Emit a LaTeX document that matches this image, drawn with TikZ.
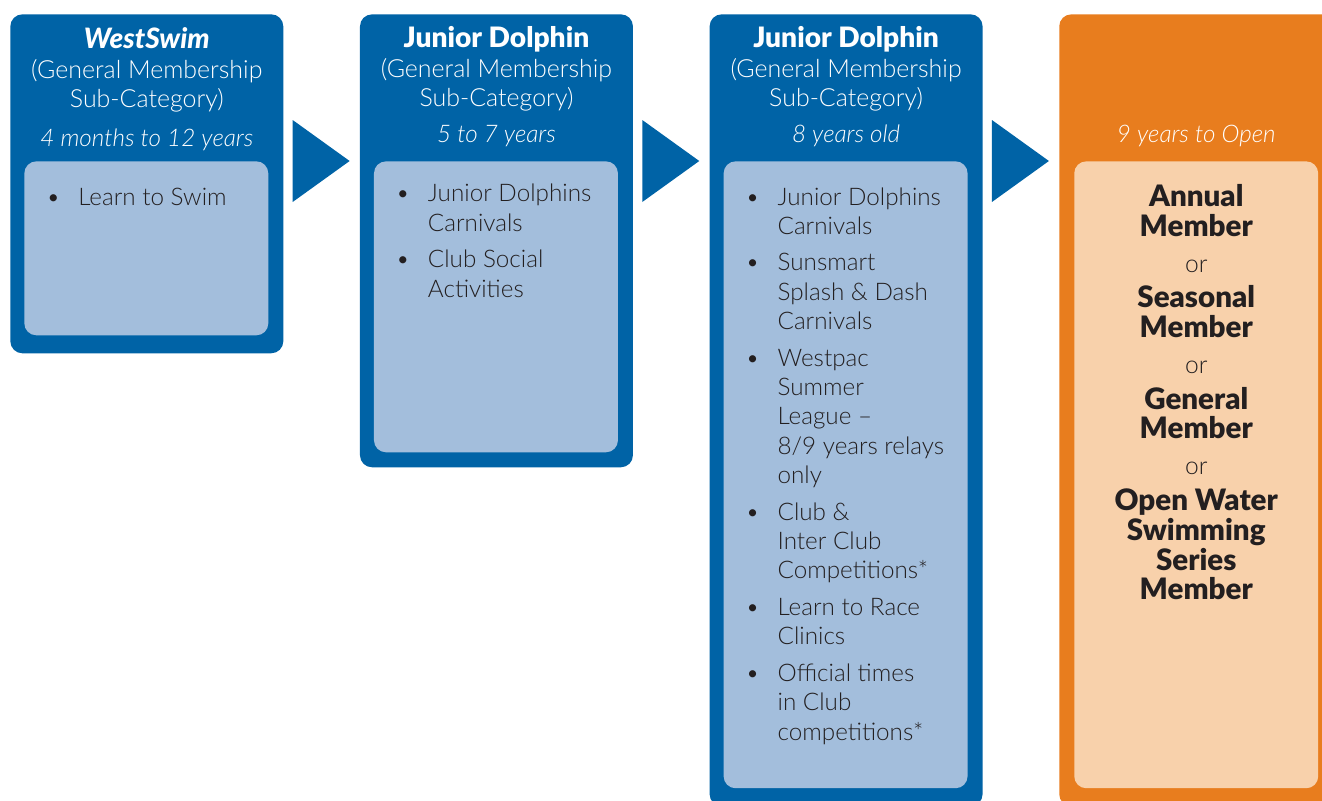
\documentclass[tikz,border=0pt]{standalone}
\usepackage{fontspec}
\setmainfont{Lato}[UprightFont=* Light, ItalicFont=* Light Italic, BoldFont=* Black, BoldItalicFont=* Black Italic]
\usetikzlibrary{positioning,calc}

\definecolor{swimblue}{RGB}{0,99,166}
\definecolor{listblue}{RGB}{163,190,220}
\definecolor{swimorange}{RGB}{232,125,30}
\definecolor{listorange}{RGB}{248,209,171}
\definecolor{textdark}{RGB}{35,31,32}

\newcommand{\bul}{\makebox[0.46cm][l]{\hspace*{-0.18cm}\textbullet}}
\newcommand{\hang}{\hspace*{0.46cm}}
\newcommand{\mem}[1]{\textbf{\fontsize{16.8}{17}\selectfont #1}}

\begin{document}
\begin{tikzpicture}[
  x=0.02cm, y=-0.02cm,
  stage box/.style={
    fill=swimblue,
    rounded corners=0.24cm,
    minimum width=5.46cm,
    inner sep=0,
    anchor=north west,
  },
  list box/.style={
    fill=listblue,
    rounded corners=0.24cm,
    minimum width=4.88cm,
    inner sep=0,
    anchor=north west,
  },
  head title/.style={text=white, inner sep=0, anchor=base,
    font=\fontsize{16}{19}\selectfont\bfseries},
  head sub/.style={text=white, inner sep=0, anchor=base, align=center,
    font=\fontsize{14.2}{17}\selectfont},
  head age/.style={text=white, inner sep=0, anchor=base,
    font=\fontsize{13.8}{16}\selectfont\itshape},
  list text/.style={text=textdark, inner sep=0, anchor=base west, align=left,
    font=\fontsize{13.8}{16.73}\selectfont},
  flow/.style={fill=swimblue},
  ]
  \useasboundingbox (0,0) rectangle (1322,801);
  % outer stages
  \node[stage box, minimum height=6.78cm] (westswim) at (10,14) {};
  \node[stage box, minimum height=9.06cm, right=1.52cm of westswim.north east,
    anchor=north west] (dolphin-young) {};
  \node[stage box, minimum height=15.84cm, right=1.52cm of dolphin-young.north east,
    anchor=north west] (dolphin-eight) {};
  \node[stage box, fill=swimorange, minimum width=5.6cm, minimum height=15.84cm,
    right=1.52cm of dolphin-eight.north east, anchor=north west] (open) {};
  % inner lists
  \node[list box, minimum height=3.48cm] (westswim-list)
    at ([shift={(14,147)}]westswim.north west) {};
  \node[list box, minimum height=5.82cm] (dolphin-young-list)
    at ([shift={(14,147)}]dolphin-young.north west) {};
  \node[list box, minimum height=12.54cm] (dolphin-eight-list)
    at ([shift={(14,147)}]dolphin-eight.north west) {};
  \node[list box, fill=listorange, minimum height=12.54cm] (open-list)
    at ([shift={(15,147)}]open.north west) {};
  % headings
  \node[head title] (westswim-title) at ([yshift=-0.7cm]westswim.north)
    {\itshape WestSwim};
  \node[head sub] (westswim-sub) at ([yshift=-1.88cm]westswim.north)
    {(General Membership\\Sub-Category)};
  \node[head age] (westswim-age) at ([yshift=-2.66cm]westswim.north)
    {4 months to 12 years};
  \foreach \st/\age in {dolphin-young/5 to 7 years, dolphin-eight/8 years old}{
    \node[head title] (\st-title) at ([yshift=-0.68cm]\st.north) {Junior Dolphin};
    \node[head sub] (\st-sub) at ([yshift=-1.86cm]\st.north)
      {(General Membership\\Sub-Category)};
    \node[head age] (\st-age) at ([yshift=-2.58cm]\st.north) {\age};
  }
  \node[head age] (open-age) at ([yshift=-2.58cm]open-list.north |- open.north)
    {9 years to Open};
  % list contents
  \node[list text] (westswim-items) at ([shift={(31,44)}]westswim-list.north west)
    {\bul Learn to Swim};
  \node[list text] (dolphin-young-items)
    at ([shift={(31,136)}]dolphin-young-list.north west)
    {\bul Junior Dolphins\\\hang Carnivals\\[4pt]
     \bul Club Social\\\hang Activities};
  \node[list text] (dolphin-eight-items)
    at ([shift={(31,579)}]dolphin-eight-list.north west)
    {\bul Junior Dolphins\\\hang Carnivals\\[4pt]
     \bul Sunsmart\\\hang Splash \& Dash\\\hang Carnivals\\[4pt]
     \bul Westpac\\\hang Summer\\\hang League --\\\hang 8/9 years relays\\\hang only\\[4pt]
     \bul Club \&\\\hang Inter Club\\\hang Competitions*\\[4pt]
     \bul Learn to Race\\\hang Clinics\\[4pt]
     \bul Official times\\\hang in Club\\\hang competitions*};
  \node[list text, anchor=base, align=center, font=\fontsize{14}{17}\selectfont]
    (open-items) at ([yshift=-8.78cm]open-list.north)
    {\mem{Annual}\\\mem{Member}\\[3.3pt]
     or\\[3.3pt]
     \mem{Seasonal}\\\mem{Member}\\[3.3pt]
     or\\[3.3pt]
     \mem{General}\\\mem{Member}\\[3.3pt]
     or\\[3.3pt]
     \mem{Open Water}\\\mem{Swimming}\\\mem{Series}\\\mem{Member}};
  % flow arrows
  \foreach \a/\b in {westswim/dolphin-young, dolphin-young/dolphin-eight,
      dolphin-eight/open}{
    \fill[flow] ([shift={(9,106)}]\a.north east) -- ([shift={(-10,147)}]\b.north west)
      -- ([shift={(9,188)}]\a.north east) -- cycle;
  }
\end{tikzpicture}
\end{document}
